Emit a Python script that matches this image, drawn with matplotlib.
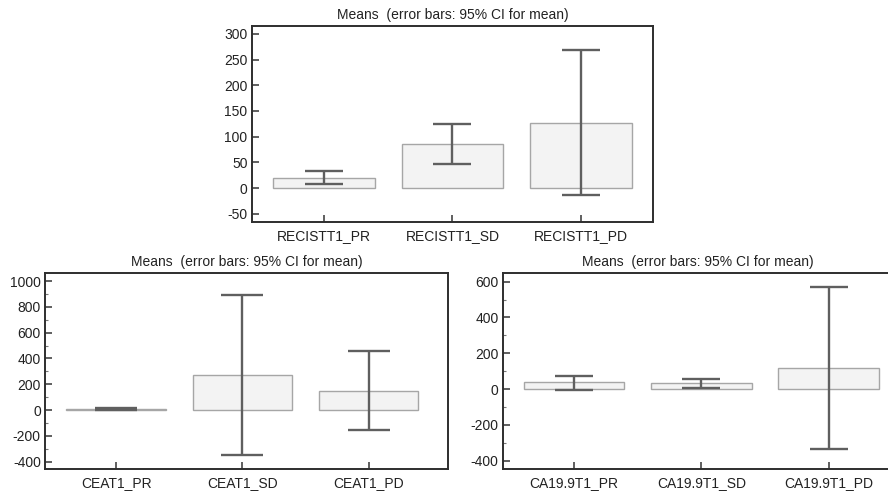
import numpy as np
import matplotlib
matplotlib.use("Agg")
from matplotlib import pyplot as plt
from matplotlib.ticker import MultipleLocator

plt.rcParams['font.family'] = ['Liberation Sans', 'DejaVu Sans']
plt.rcParams['font.size'] = 10
plt.rcParams['axes.unicode_minus'] = False

TITLE = "Means  (error bars: 95% CI for mean)"

# RECIST tumour size
recist_labels = ["RECISTT1_PR", "RECISTT1_SD", "RECISTT1_PD"]
recist_mean = [20, 86, 127]
recist_low = [7, 47, -14]
recist_high = [34, 124, 268]

# CEA
cea_labels = ["CEAT1_PR", "CEAT1_SD", "CEAT1_PD"]
cea_mean = [8, 269, 152]
cea_low = [1, -351, -150]
cea_high = [16, 889, 455]

# CA19.9
ca_labels = ["CA19.9T1_PR", "CA19.9T1_SD", "CA19.9T1_PD"]
ca_mean = [37, 33, 115]
ca_low = [-4, 7, -337]
ca_high = [74, 57, 568]

FILL = "#f3f3f3"
EDGE = "#a6a6a6"
ERR = "#5f5f5f"
FRAME = "#2e2e2e"


def means_panel(ax, labels, mean, low, high, xlim, ylim, major, minor=None, capsize=14):
    x = np.arange(len(labels))
    mean = np.asarray(mean, dtype=float)
    err = np.vstack([mean - np.asarray(low), np.asarray(high) - mean])
    ax.bar(x, mean, width=0.79, color=FILL, edgecolor=EDGE, linewidth=1.0, zorder=2)
    ax.errorbar(x, mean, yerr=err, fmt='none', ecolor=ERR, elinewidth=1.7,
                capsize=capsize, capthick=1.7, zorder=3)
    ax.set_xticks(x)
    ax.set_xticklabels(labels)
    ax.set_xlim(*xlim)
    ax.set_ylim(*ylim)
    ax.yaxis.set_major_locator(MultipleLocator(major))
    if minor:
        ax.yaxis.set_minor_locator(MultipleLocator(minor))
    ax.set_title(TITLE, fontsize=10, color="#222222", pad=5)
    for sp in ax.spines.values():
        sp.set_linewidth(1.4)
        sp.set_color(FRAME)
    ax.tick_params(direction='in', length=5, width=1.2, color="#444444",
                   labelcolor="#222222", labelsize=10)
    ax.tick_params(axis='y', which='minor', direction='in', length=2.5,
                   width=0.8, color="#777777")
    ax.tick_params(axis='x', pad=5)
    ax.tick_params(axis='y', pad=3)


fig = plt.figure(figsize=(8.88, 4.92), dpi=100)

ax1 = fig.add_axes([0.2834, 0.5488, 0.4523, 0.3990])
means_panel(ax1, recist_labels, recist_mean, recist_low, recist_high,
            (-0.563, 2.563), (-66, 316), 50, capsize=14)

ax2 = fig.add_axes([0.0507, 0.0467, 0.4538, 0.3984])
means_panel(ax2, cea_labels, cea_mean, cea_low, cea_high,
            (-0.565, 2.63), (-456, 1062), 200, 100, capsize=15)

ax3 = fig.add_axes([0.5661, 0.0460, 0.4400, 0.3986])
means_panel(ax3, ca_labels, ca_mean, ca_low, ca_high,
            (-0.562, 2.51), (-449, 647), 200, 100, capsize=14)

fig.savefig("out.png", dpi=100)
